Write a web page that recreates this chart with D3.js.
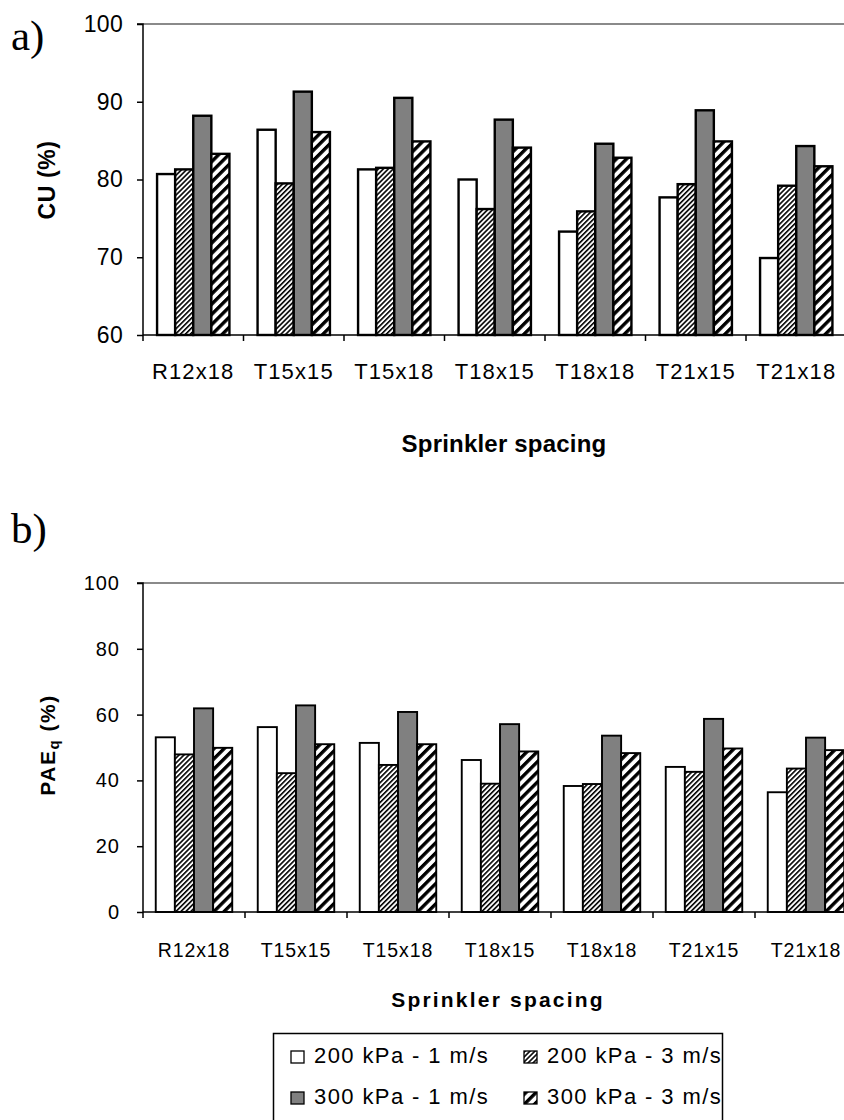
<!DOCTYPE html>
<html>
<head>
<meta charset="utf-8">
<script src="https://cdn.jsdelivr.net/npm/d3@7"></script>
<style>
  body { margin: 0; background: #fff; }
  svg { display: block; }
</style>
</head>
<body>
<svg id="chart" width="844" height="1120"></svg>
<script>
// Sprinkler spacings (x categories) and the four pressure / wind-speed series
const categories = ["R12x18", "T15x15", "T15x18", "T18x15", "T18x18", "T21x15", "T21x18"];
const seriesNames = ["200 kPa - 1 m/s", "200 kPa - 3 m/s", "300 kPa - 1 m/s", "300 kPa - 3 m/s"];

// Panel a: Christiansen uniformity coefficient CU (%)
const cu200_1 = [80.7, 86.4, 81.3, 80.0, 73.3, 77.7, 69.9];
const cu200_3 = [81.3, 79.5, 81.5, 76.2, 75.9, 79.4, 79.2];
const cu300_1 = [88.2, 91.3, 90.5, 87.7, 84.6, 88.9, 84.3];
const cu300_3 = [83.3, 86.1, 84.9, 84.1, 82.8, 84.9, 81.7];

// Panel b: potential application efficiency of the low quarter PAEq (%)
const pae200_1 = [53.1, 56.2, 51.4, 46.2, 38.3, 44.1, 36.4];
const pae200_3 = [47.9, 42.2, 44.7, 39.0, 38.9, 42.6, 43.6];
const pae300_1 = [61.9, 62.8, 60.8, 57.1, 53.6, 58.7, 53.0];
const pae300_3 = [49.9, 51.0, 51.0, 48.8, 48.3, 49.7, 49.2];

// Axis tick values
const cuTicks = [60, 70, 80, 90, 100];
const paeTicks = [0, 20, 40, 60, 80, 100];

const svg = d3.select("#chart");
const W = 844;

// Fill patterns: fine and wide upward diagonal hatching
const defs = svg.append("defs");
function hatch(id, period, thickness) {
  const p = defs.append("pattern")
    .attr("id", id)
    .attr("patternUnits", "userSpaceOnUse")
    .attr("width", period)
    .attr("height", period)
    .attr("patternTransform", "rotate(45)");
  p.append("rect").attr("width", period).attr("height", period).attr("fill", "#fff");
  p.append("rect").attr("width", thickness).attr("height", period).attr("fill", "#000");
}
hatch("hatchFine", 3.5, 1.6);
hatch("hatchWide", 7.2, 3.4);

const fills = ["#ffffff", "url(#hatchFine)", "#808080", "url(#hatchWide)"];

function drawPanel(cfg) {
  const g = svg.append("g");
  const x0 = d3.scaleBand()
    .domain(categories)
    .range([cfg.left, cfg.left + cfg.step * categories.length])
    .paddingInner(cfg.pad)
    .paddingOuter(cfg.pad / 2);
  const x1 = d3.scaleBand()
    .domain(seriesNames)
    .range([0, x0.bandwidth()]);
  const y = d3.scaleLinear().domain(cfg.yDomain).range([cfg.bottom, cfg.top]);

  // top border of the plot area
  g.append("line")
    .attr("x1", cfg.left).attr("x2", W)
    .attr("y1", y(cfg.yDomain[1])).attr("y2", y(cfg.yDomain[1]))
    .attr("stroke", "#8a8a8a").attr("stroke-width", 2);

  // bars
  const rows = categories.map((c, i) => ({ cat: c, vals: cfg.series.map(s => s[i]) }));
  const grp = g.selectAll("g.cat").data(rows).join("g")
    .attr("class", "cat")
    .attr("transform", d => `translate(${x0(d.cat)},0)`);
  grp.selectAll("rect")
    .data(d => d.vals.map((v, k) => ({ name: seriesNames[k], v, k })))
    .join("rect")
    .attr("x", d => x1(d.name))
    .attr("width", x1.bandwidth())
    .attr("y", d => y(d.v))
    .attr("height", d => y(cfg.yDomain[0]) - y(d.v))
    .attr("fill", d => fills[d.k])
    .attr("stroke", "#000")
    .attr("stroke-width", cfg.barStroke);

  // y axis
  const yAxis = d3.axisLeft(y).tickValues(cfg.ticks).tickSize(6).tickPadding(cfg.tickPad);
  const ya = g.append("g").attr("transform", `translate(${cfg.left},0)`).call(yAxis);
  ya.select(".domain").attr("stroke", "#000").attr("stroke-width", 1.5)
    .attr("d", `M-6,${cfg.top}H0V${cfg.bottom + 6}`);
  ya.selectAll(".tick line").attr("stroke", "#000").attr("stroke-width", 1.5);
  ya.selectAll(".tick text")
    .attr("font-family", cfg.font).attr("font-size", cfg.tickSize)
    .style("letter-spacing", cfg.tickSpacing + "px")
    .attr("fill", "#000");

  // x axis: line with ticks at category boundaries
  const xa = g.append("g");
  xa.append("line")
    .attr("x1", cfg.left).attr("x2", W)
    .attr("y1", cfg.bottom).attr("y2", cfg.bottom)
    .attr("stroke", "#000").attr("stroke-width", 1.5);
  xa.selectAll("line.bt")
    .data(d3.range(1, categories.length + 1))
    .join("line")
    .attr("class", "bt")
    .attr("x1", i => cfg.left + i * x0.step()).attr("x2", i => cfg.left + i * x0.step())
    .attr("y1", cfg.bottom).attr("y2", cfg.bottom + 6)
    .attr("stroke", "#000").attr("stroke-width", 1.5);
  xa.selectAll("text")
    .data(categories)
    .join("text")
    .attr("x", c => x0(c) + x0.bandwidth() / 2)
    .attr("y", cfg.catBaseline)
    .attr("text-anchor", "middle")
    .attr("font-family", cfg.font)
    .attr("font-size", cfg.catSize)
    .style("letter-spacing", cfg.catSpacing + "px")
    .text(c => c);

  // x axis title
  g.append("text")
    .attr("x", cfg.xTitleX).attr("y", cfg.xTitleY)
    .attr("text-anchor", "middle")
    .attr("font-family", cfg.font).attr("font-weight", "bold")
    .attr("font-size", cfg.xTitleSize)
    .style("letter-spacing", cfg.xTitleSpacing + "px")
    .text("Sprinkler spacing");

  // y axis title
  const yt = g.append("text")
    .attr("transform", `translate(${cfg.yTitleX},${cfg.yTitleY}) rotate(-90)`)
    .attr("text-anchor", "middle")
    .attr("font-family", cfg.font).attr("font-weight", "bold")
    .attr("font-size", cfg.yTitleSize)
    .style("letter-spacing", cfg.yTitleSpacing + "px");
  cfg.yTitle(yt);

  // panel letter
  svg.append("text")
    .attr("x", 11).attr("y", cfg.letterY)
    .attr("font-family", "Liberation Serif, serif")
    .attr("font-size", 43)
    .text(cfg.letter);
}

drawPanel({
  letter: "a)", letterY: 50,
  top: 24, bottom: 335, left: 143, step: 100.5, pad: 0.28,
  yDomain: [60, 100], ticks: cuTicks,
  series: [cu200_1, cu200_3, cu300_1, cu300_3],
  barStroke: 2.4,
  font: "Liberation Sans, Arial, sans-serif",
  tickSize: 23, tickSpacing: 0.3, tickPad: 14,
  catSize: 22, catSpacing: 1.1, catBaseline: 379,
  xTitleX: 504, xTitleY: 452, xTitleSize: 24, xTitleSpacing: 0.2,
  yTitleX: 55, yTitleY: 180, yTitleSize: 23, yTitleSpacing: 0.6,
  yTitle: t => t.text("CU (%)")
});

drawPanel({
  letter: "b)", letterY: 543,
  top: 583, bottom: 912, left: 143, step: 102, pad: 0.25,
  yDomain: [0, 100], ticks: paeTicks,
  series: [pae200_1, pae200_3, pae300_1, pae300_3],
  barStroke: 1.9,
  font: "Liberation Sans, Arial, sans-serif",
  tickSize: 20, tickSpacing: 1, tickPad: 17,
  catSize: 19.5, catSpacing: 0.9, catBaseline: 957,
  xTitleX: 498, xTitleY: 1007, xTitleSize: 21, xTitleSpacing: 2.2,
  yTitleX: 55, yTitleY: 745, yTitleSize: 21, yTitleSpacing: 1.5,
  yTitle: t => {
    t.append("tspan").text("PAE");
    t.append("tspan").attr("baseline-shift", "-25%").attr("font-size", 15).text("q");
    t.append("tspan").text(" (%)");
  }
});

// Legend
const legend = svg.append("g");
legend.append("rect")
  .attr("x", 273.5).attr("y", 1033.5)
  .attr("width", 449).attr("height", 120)
  .attr("fill", "#fff").attr("stroke", "#000").attr("stroke-width", 1.5);
const legendItems = seriesNames.map((name, k) => ({ name, k, col: k % 2 === 0 ? 0 : 1, row: k < 2 ? 0 : 1 }));
const li = legend.selectAll("g.item").data(legendItems).join("g")
  .attr("class", "item")
  .attr("transform", d => `translate(${d.col === 0 ? 291 : 524},${d.row === 0 ? 1051 : 1092})`);
li.append("rect")
  .attr("width", 13).attr("height", 12)
  .attr("fill", d => fills[d.k])
  .attr("stroke", "#000").attr("stroke-width", 1.3);
li.append("text")
  .attr("x", 23).attr("y", 12)
  .attr("font-family", "Liberation Sans, Arial, sans-serif")
  .attr("font-size", 22)
  .style("letter-spacing", "1.4px")
  .text(d => d.name);
</script>
</body>
</html>
